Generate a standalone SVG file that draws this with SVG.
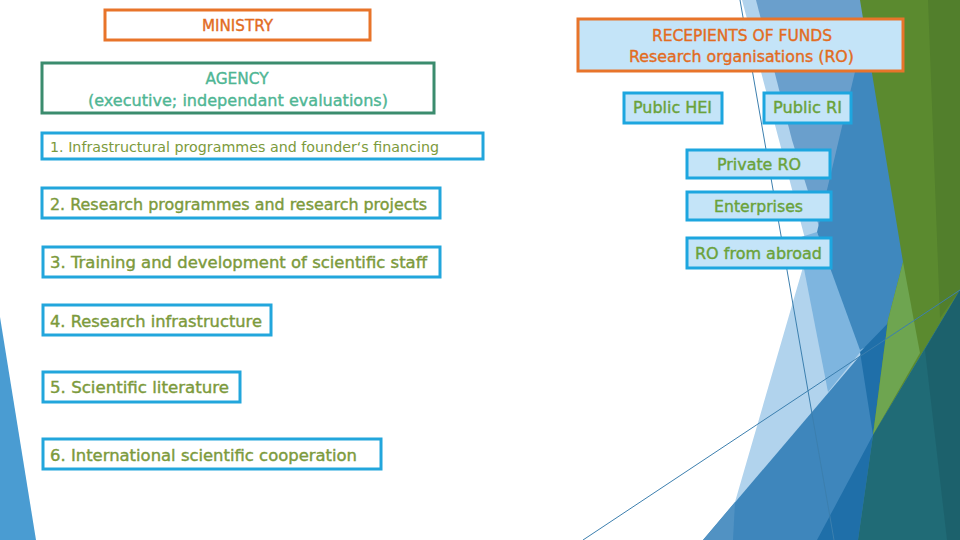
<svg xmlns="http://www.w3.org/2000/svg" width="960" height="540" viewBox="0 0 960 540">
<style>
  .t { font-family: "DejaVu Sans", "Liberation Sans", sans-serif; font-size: 16px; stroke-width: 0.4; }
  .s { font-size: 14px; stroke-width: 0; }
  .org { fill: #E26C1F; stroke: #E26C1F; }
  .olv { fill: #7C9A3C; stroke: #7C9A3C; }
  .grn { fill: #6AA23A; stroke: #6AA23A; }
  .agt { fill: #4FB694; stroke: #4FB694; }
  .bo { fill: #FFFFFF; stroke: #E8742A; stroke-width: 3; }
  .bg { fill: #FFFFFF; stroke: #3B8C6E; stroke-width: 3; }
  .bb { fill: #FFFFFF; stroke: #22A6DC; stroke-width: 3; }
  .rb { fill: #C4E4F8; stroke: #1DA6DF; stroke-width: 3; }
  .ro { fill: #C4E4F8; stroke: #E8742A; stroke-width: 3; }
  .thin { stroke: #3C7FAE; stroke-width: 1; fill: none; }
</style>
<rect width="960" height="540" fill="#FFFFFF"/>
<g id="background">
  <polygon points="0,317 36,540 0,540" fill="#4A9CD2"/>
  <polygon points="742,0 808,250 724,540 960,540 960,0" fill="#B1D3ED"/>
  <polygon points="756,0 872,0 822,236 792,140" fill="#6A9FCC"/>
  <polygon points="798,238 817,232 862,350 828,392" fill="#7EB5DF"/>
  <polygon points="872,0 960,0 960,300 860,350 817,232" fill="#3F88BE"/>
  <polygon points="703,540 960,238 960,540" fill="#3E86BC"/>
  <polygon points="703,540 735,502 733,540" fill="#5192C3"/>
  <polygon points="817,540 873,435 858,540" fill="#1F6FA9"/>
  <polygon points="860,352 893,318 873,435" fill="#1F6FA9"/>
  <polygon points="860,0 960,0 960,290 873,435 888,320 903,262" fill="#5B8A2F"/>
  <polygon points="928,0 960,0 960,290 940,318" fill="#527F2C"/>
  <polygon points="903,262 920,353 873,435 888,320" fill="#6EA550"/>
  <polygon points="960,290 873,435 858,540 960,540" fill="#206B76"/>
  <polygon points="925,350 960,290 960,540 947,540" fill="#1C616C"/>
  <line class="thin" x1="740" y1="0" x2="834" y2="540"/>
  <line class="thin" x1="583" y1="540" x2="960" y2="290"/>
</g>
<g id="connectors"/>
<g id="ministry">
  <rect class="bo" x="105" y="10" width="265" height="30"/>
  <text class="t org" x="237.5" y="31" text-anchor="middle" textLength="71" lengthAdjust="spacingAndGlyphs">MINISTRY</text>
</g>
<g id="agency">
  <rect class="bg" x="42" y="63" width="392" height="50"/>
  <text class="t agt" x="237" y="84" text-anchor="middle" textLength="63" lengthAdjust="spacingAndGlyphs">AGENCY</text>
  <text class="t agt" x="238" y="106" text-anchor="middle" textLength="300" lengthAdjust="spacingAndGlyphs">(executive; independant evaluations)</text>
</g>
<g id="item1">
  <rect class="bb" x="42" y="133" width="441" height="26"/>
  <text class="t s olv" x="50" y="152" textLength="389" lengthAdjust="spacingAndGlyphs">1. Infrastructural programmes and founder‘s financing</text>
</g>
<g id="item2">
  <rect class="bb" x="42" y="188" width="398" height="30"/>
  <text class="t olv" x="50" y="210" textLength="377" lengthAdjust="spacingAndGlyphs">2. Research programmes and research projects</text>
</g>
<g id="item3">
  <rect class="bb" x="43" y="247" width="397" height="30"/>
  <text class="t olv" x="50" y="268" textLength="377" lengthAdjust="spacingAndGlyphs">3. Training and development of scientific staff</text>
</g>
<g id="item4">
  <rect class="bb" x="43" y="305" width="228" height="30"/>
  <text class="t olv" x="50" y="327" textLength="212" lengthAdjust="spacingAndGlyphs">4. Research infrastructure</text>
</g>
<g id="item5">
  <rect class="bb" x="43" y="372" width="197" height="30"/>
  <text class="t olv" x="50" y="393" textLength="179" lengthAdjust="spacingAndGlyphs">5. Scientific literature</text>
</g>
<g id="item6">
  <rect class="bb" x="43" y="439" width="338" height="30"/>
  <text class="t olv" x="50" y="461" textLength="307" lengthAdjust="spacingAndGlyphs">6. International scientific cooperation</text>
</g>
<g id="recipients">
  <rect class="ro" x="578" y="19" width="325" height="52"/>
  <text class="t org" x="742" y="41" text-anchor="middle" textLength="180" lengthAdjust="spacingAndGlyphs">RECEPIENTS OF FUNDS</text>
  <text class="t org" x="741.5" y="62" text-anchor="middle" textLength="225" lengthAdjust="spacingAndGlyphs">Research organisations (RO)</text>
</g>
<g id="public-hei">
  <rect class="rb" x="624" y="93" width="98" height="30"/>
  <text class="t grn" x="633" y="113" textLength="79" lengthAdjust="spacingAndGlyphs">Public HEI</text>
</g>
<g id="public-ri">
  <rect class="rb" x="764" y="93" width="87" height="30"/>
  <text class="t grn" x="773" y="113" textLength="69" lengthAdjust="spacingAndGlyphs">Public RI</text>
</g>
<g id="private-ro">
  <rect class="rb" x="687" y="150" width="143" height="28"/>
  <text class="t grn" x="717" y="170" textLength="84" lengthAdjust="spacingAndGlyphs">Private RO</text>
</g>
<g id="enterprises">
  <rect class="rb" x="687" y="192" width="144" height="28"/>
  <text class="t grn" x="714" y="212" textLength="89" lengthAdjust="spacingAndGlyphs">Enterprises</text>
</g>
<g id="ro-abroad">
  <rect class="rb" x="687" y="238" width="144" height="30"/>
  <text class="t grn" x="695" y="259" textLength="127" lengthAdjust="spacingAndGlyphs">RO from abroad</text>
</g>
</svg>
